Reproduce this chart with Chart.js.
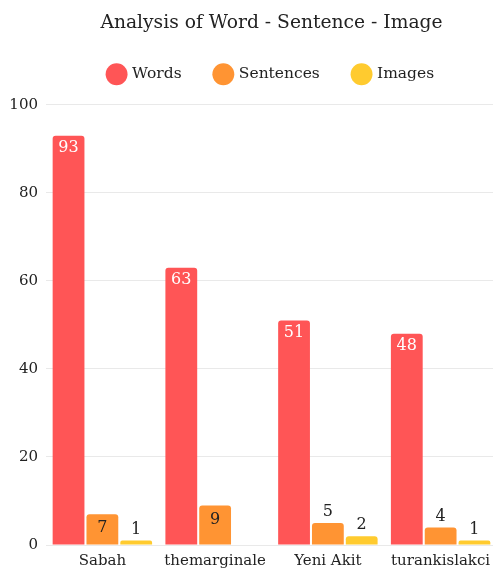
<!DOCTYPE html>
<html>
<head>
<meta charset="utf-8">
<script src="https://cdn.jsdelivr.net/npm/chart.js@4"></script>
<style>
html,body{margin:0;padding:0;background:#fff;overflow:hidden;width:493px;height:568px;}
#wrap{width:543px;height:568px;}
</style>
</head>
<body>
<div id="wrap"><canvas id="c"></canvas></div>
<script>
const categories = ["Sabah", "themarginale", "Yeni Akit", "turankislakci"];
const words = [93, 63, 51, 48];
const sentences = [7, 9, 5, 4];
const images = [1, 0, 2, 1];
const yTicks = [0, 20, 40, 60, 80, 100];

const FONT = "'DejaVu Serif', serif";

const labelPlugin = {
  id: 'barLabels',
  afterDatasetsDraw(chart) {
    const ctx = chart.ctx;
    ctx.save();
    ctx.font = "16px " + FONT;
    ctx.textAlign = 'center';
    chart.data.datasets.forEach((ds, di) => {
      const meta = chart.getDatasetMeta(di);
      meta.data.forEach((bar, i) => {
        const v = ds.data[i];
        if (!v) return;
        const h = bar.base - bar.y;
        if (di === 0) {
          ctx.fillStyle = '#ffffff';
          ctx.textBaseline = 'top';
          ctx.fillText(String(v), bar.x, bar.y + 4);
        } else if (h > 26) {
          ctx.fillStyle = '#222222';
          ctx.textBaseline = 'top';
          ctx.fillText(String(v), bar.x, bar.y + 6);
        } else {
          ctx.fillStyle = '#222222';
          ctx.textBaseline = 'bottom';
          ctx.fillText(String(v), bar.x, bar.y - 3);
        }
      });
    });
    ctx.restore();
  }
};

const legendSpace = {
  id: 'legendSpace',
  beforeInit(chart) {
    const lg = chart.legend;
    if (!lg) return;
    const orig = lg.fit;
    lg.fit = function () { orig.call(this); this.height += 13; };
  }
};

new Chart(document.getElementById('c'), {
  type: 'bar',
  data: {
    labels: categories,
    datasets: [
      { label: 'Words', data: words, backgroundColor: '#ff5556' },
      { label: 'Sentences', data: sentences, backgroundColor: '#ff9433' },
      { label: 'Images', data: images, backgroundColor: '#ffcb2f' }
    ]
  },
  options: {
    responsive: true,
    maintainAspectRatio: false,
    animation: false,
    devicePixelRatio: 1,
    layout: { padding: { left: 0, right: 46, top: 0, bottom: 0 } },
    datasets: {
      bar: { categoryPercentage: 0.9, barPercentage: 0.94, borderRadius: 3, borderSkipped: 'bottom' }
    },
    plugins: {
      title: {
        display: true,
        fullSize: false,
        text: 'Analysis of Word - Sentence - Image',
        color: '#222222',
        font: { family: FONT, size: 18.7, weight: 'normal' },
        padding: { top: 12, bottom: -2 }
      },
      legend: {
        display: true,
        fullSize: false,
        labels: {
          usePointStyle: true,
          pointStyle: 'circle',
          boxWidth: 17,
          boxHeight: 17,
          padding: 34,
          color: '#222222',
          font: { family: FONT, size: 15.5 }
        }
      },
      tooltip: { enabled: false }
    },
    scales: {
      x: {
        grid: { display: false, drawTicks: false },
        border: { display: false },
        afterFit(scale) { scale.height = 23; },
        ticks: { color: '#222222', font: { family: FONT, size: 15 }, padding: 7 }
      },
      y: {
        min: 0,
        max: 100,
        afterBuildTicks(scale) { scale.ticks = yTicks.map(v => ({ value: v })); },
        afterFit(scale) { scale.width = 46; },
        grid: { color: '#e9e9e9', drawTicks: false },
        border: { display: false },
        ticks: { color: '#222222', font: { family: FONT, size: 15 }, padding: 8 }
      }
    }
  },
  plugins: [labelPlugin, legendSpace]
});
</script>
</body>
</html>
